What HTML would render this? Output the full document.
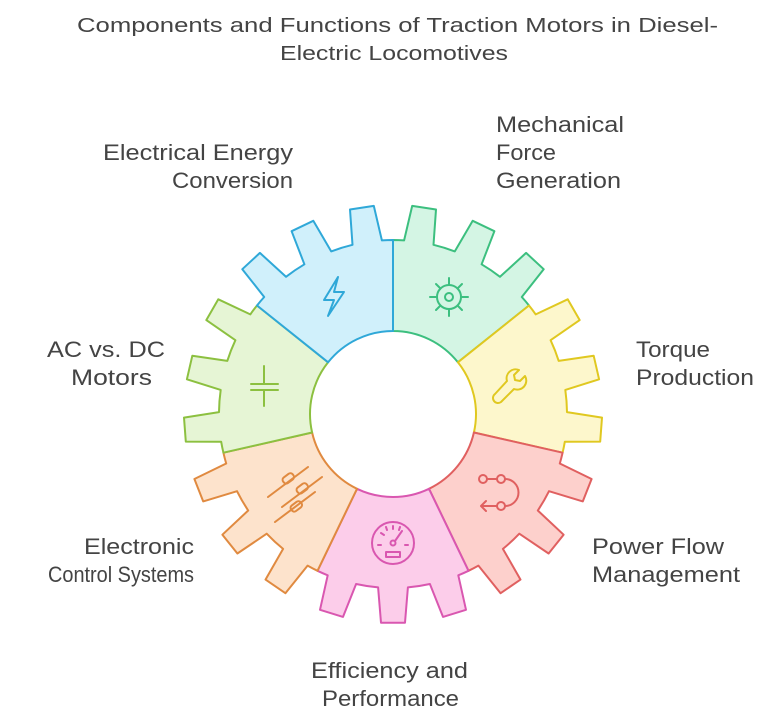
<!DOCTYPE html>
<html><head><meta charset="utf-8"><style>
html,body{margin:0;padding:0;background:#fff;}
svg{display:block}
text{font-family:"Liberation Sans",sans-serif;fill:#444;}
</style></head><body>
<svg id="s" width="775" height="717" viewBox="0 0 775 717" xmlns="http://www.w3.org/2000/svg">
<g id="gear"></g>
<g font-size="20">
<text x="77" y="32" textLength="641" lengthAdjust="spacingAndGlyphs">Components and Functions of Traction Motors in Diesel-</text>
<text x="280" y="60" textLength="228" lengthAdjust="spacingAndGlyphs">Electric Locomotives</text>
</g>
<g font-size="22">
<text x="103" y="160" textLength="190" lengthAdjust="spacingAndGlyphs">Electrical Energy</text>
<text x="172" y="188" textLength="121" lengthAdjust="spacingAndGlyphs">Conversion</text>
<text x="496" y="132" textLength="128" lengthAdjust="spacingAndGlyphs">Mechanical</text>
<text x="496" y="160" textLength="60" lengthAdjust="spacingAndGlyphs">Force</text>
<text x="496" y="188" textLength="125" lengthAdjust="spacingAndGlyphs">Generation</text>
<text x="47" y="357" textLength="118" lengthAdjust="spacingAndGlyphs">AC vs. DC</text>
<text x="71" y="385" textLength="81" lengthAdjust="spacingAndGlyphs">Motors</text>
<text x="636" y="357" textLength="74" lengthAdjust="spacingAndGlyphs">Torque</text>
<text x="636" y="385" textLength="118" lengthAdjust="spacingAndGlyphs">Production</text>
<text x="84" y="554" textLength="110" lengthAdjust="spacingAndGlyphs">Electronic</text>
<text x="48" y="582" textLength="146" lengthAdjust="spacingAndGlyphs">Control Systems</text>
<text x="592" y="554" textLength="132" lengthAdjust="spacingAndGlyphs">Power Flow</text>
<text x="592" y="582" textLength="148" lengthAdjust="spacingAndGlyphs">Management</text>
<text x="311" y="678" textLength="157" lengthAdjust="spacingAndGlyphs">Efficiency and</text>
<text x="322" y="706" textLength="137" lengthAdjust="spacingAndGlyphs">Performance</text>
</g>
<g fill="none" stroke-width="2" stroke-linecap="round" stroke-linejoin="round">
<path d="M338,277 L324,300 L334,300 L328,316 L344,292 L334,292 Z" stroke="#2fa8d8"/>
<g stroke="#3cbf7f"><circle cx="449" cy="297" r="12"/><circle cx="449" cy="297" r="4"/>
<path d="M449,278v7M449,309v7M430,297h7M461,297h7M436,284l4,4M458,306l4,4M436,310l4,-4M458,288l4,-4"/></g>
<path d="M501,402 L514,389 A9,9 0 0 0 525,376 L520,381 L515,380 L514,375 L519,370 A9,9 0 0 0 507,381 L495,394 A5,5 0 0 0 501,402 Z" stroke="#e0c820"/>
<g stroke="#8cc040"><path d="M251,384h27M251,390h27M264,366v17M264,391v15"/></g>
<g stroke="#e08a40"><path d="M268,497l40,-30M282,507l40,-30M275,522l40,-30"/>
<rect x="282" y="475" width="12" height="7" rx="3" transform="rotate(-37 288 478)"/>
<rect x="296" y="485" width="12" height="7" rx="3" transform="rotate(-37 302 488)"/>
<rect x="290" y="503" width="12" height="7" rx="3" transform="rotate(-37 296 506)"/></g>
<g stroke="#d957b0"><circle cx="393" cy="543" r="21"/><circle cx="393" cy="543" r="2.5"/>
<path d="M395,541l7,-10M378,545h3M405,545h3M381,533l3,2M386,527l1,3M393,526v3M400,527l-1,3"/>
<rect x="386" y="552" width="14" height="5"/></g>
<g stroke="#e06060"><circle cx="483" cy="479" r="4"/><circle cx="501" cy="479" r="4"/><circle cx="501" cy="506" r="4"/>
<path d="M487,479h10M505,479a13,13 0 0 1 0,27M497,506h-16M486,501l-5,5 5,5"/></g>
</g>
</svg>
<script>
(function(){
var cx=393,cy=414,ri=83,rr=174,ro=209;
var segs=[["#d4f5e4","#3cbf7f"],["#fdf7cc","#e0c820"],["#fdd0cc","#e06060"],["#fccdea","#d957b0"],["#fde3cc","#e08a40"],["#e6f5d5","#8cc040"],["#d0f0fb","#2fa8d8"]];
var step=360/7,t=step/3,d2r=Math.PI/180;
function P(r,a){a*=d2r;return (cx+r*Math.cos(a)).toFixed(1)+","+(cy+r*Math.sin(a)).toFixed(1);}
var g=document.getElementById("gear"),h="";
for(var k=0;k<7;k++){
 var a0=-90+k*step,a1=a0+step;
 var d="M"+P(ri,a0)+" L"+P(rr,a0);
 for(var j=0;j<3;j++){
  var c=a0+t*(j+0.5);
  d+=" A"+rr+","+rr+" 0 0 1 "+P(rr,c-4.9)+" L"+P(ro,c-3.3)+" L"+P(ro,c+3.3)+" L"+P(rr,c+4.9);
 }
 d+=" A"+rr+","+rr+" 0 0 1 "+P(rr,a1)+" L"+P(ri,a1)+" A"+ri+","+ri+" 0 0 0 "+P(ri,a0)+" Z";
 h+='<path d="'+d+'" fill="'+segs[k][0]+'" stroke="'+segs[k][1]+'" stroke-width="2" stroke-linejoin="round"/>';
}
g.innerHTML=h;
})();
</script>
</body></html>
